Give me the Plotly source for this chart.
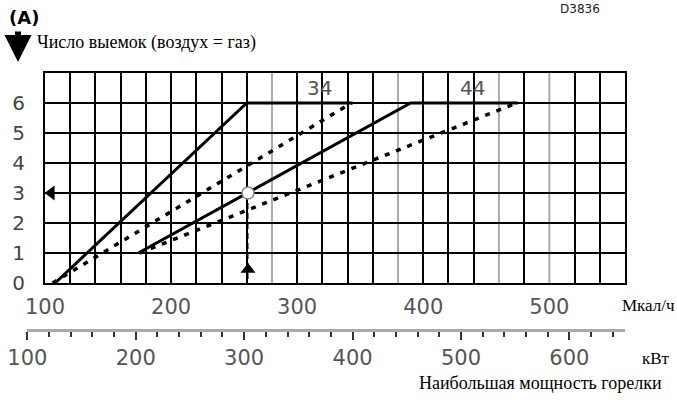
import plotly.graph_objects as go

# burner output (Mcal/h) vs number of notches, nozzles 34 and 44
mcal_34_solid = [108, 260, 344]
notches_34_solid = [0, 6, 6]
mcal_34_dotted = [106, 343]
notches_34_dotted = [0, 6]

mcal_44_solid = [174, 390, 475]
notches_44_solid = [1, 6, 6]
mcal_44_dotted = [175, 474]
notches_44_dotted = [1, 6]

# example reading
example_mcal = 261
example_notches = 3

label_34 = (318, 6.5)
label_44 = (439, 6.5)

mcal_labels = [100, 200, 300, 400, 500]
kw_labels = [100, 200, 300, 400, 500, 600]
notch_labels = [0, 1, 2, 3, 4, 5, 6]
grid_black = [v for v in range(120, 560, 20) if v not in (280, 380, 460, 500)]
grid_gray = [280, 380, 460, 500]

KW_PER_MCAL = 1.163
x_range = [100, 560]
kw_range = [100, 560 * KW_PER_MCAL]

W, H = 677, 400
ML, MR, MT, MB = 20, 52, 73, 40
PW, PH = W - ML - MR, H - MT - MB


def px(x):
    return (x - ML) / PW


def py(y):
    return (H - MB - y) / PH


x_dom0 = px(45)
kw_dom0 = x_dom0 - (x_range[0] - kw_range[0] / KW_PER_MCAL) * (1 - x_dom0) / (x_range[1] - x_range[0])

fig = go.Figure()

solid = dict(color="black", width=3)
dotted = dict(color="black", width=3.5, dash="5px,7px")

fig.add_trace(go.Scatter(x=mcal_34_solid, y=notches_34_solid, mode="lines", line=solid))
fig.add_trace(go.Scatter(x=mcal_34_dotted, y=notches_34_dotted, mode="lines", line=dotted))
fig.add_trace(go.Scatter(x=mcal_44_solid, y=notches_44_solid, mode="lines", line=solid))
fig.add_trace(go.Scatter(x=mcal_44_dotted, y=notches_44_dotted, mode="lines", line=dotted))

# reading guide
guide = dict(color="black", width=1, dash="6px,4px")
fig.add_trace(go.Scatter(x=[x_range[0], example_mcal], y=[example_notches] * 2, mode="lines", line=guide))
fig.add_trace(go.Scatter(x=[example_mcal] * 2, y=[example_notches, 0], mode="lines", line=guide))
fig.add_trace(go.Scatter(x=[105], y=[example_notches], mode="markers",
                         marker=dict(symbol="triangle-left", size=13, color="black")))
fig.add_trace(go.Scatter(x=[example_mcal], y=[0.45], mode="markers",
                         marker=dict(symbol="triangle-up", size=13, color="black")))
fig.add_trace(go.Scatter(x=[example_mcal], y=[example_notches], mode="markers",
                         marker=dict(symbol="circle", size=12, color="white",
                                     line=dict(color="#888", width=1.5))))

# carrier for the kW axis
fig.add_trace(go.Scatter(x=kw_range, y=[None, None], xaxis="x2", yaxis="y2",
                         mode="lines", hoverinfo="skip"))

for v in grid_gray:
    fig.add_shape(type="line", xref="x", yref="y domain", x0=v, x1=v, y0=0, y1=1,
                  line=dict(color="#aaa", width=2), layer="below")

digits = dict(family="DejaVu Sans", size=21, color="#555")
serif = dict(family="Liberation Serif", size=17, color="black")

fig.update_layout(
    width=W, height=H,
    margin=dict(l=ML, r=MR, t=MT, b=MB, autoexpand=False),
    paper_bgcolor="white", plot_bgcolor="white",
    showlegend=False,
    xaxis=dict(
        domain=[x_dom0, 1], range=x_range, anchor="y", automargin=False,
        tickmode="array", tickvals=mcal_labels, ticks="",
        showgrid=False, zeroline=False,
        showline=True, mirror=True, linecolor="black", linewidth=2,
        tickfont=digits, ticklabelstandoff=4,
        minor=dict(tickmode="array", tickvals=grid_black, showgrid=True,
                   gridcolor="black", gridwidth=2, ticks=""),
    ),
    yaxis=dict(
        domain=[py(283), 1], range=[0, 7], automargin=False,
        tickmode="array", tickvals=notch_labels, ticks="",
        showgrid=True, gridcolor="black", gridwidth=2, zeroline=False,
        showline=True, mirror=True, linecolor="black", linewidth=2,
        tickfont=dict(family="DejaVu Sans", size=20, color="#444"),
        ticklabelstandoff=14,
    ),
    xaxis2=dict(
        domain=[kw_dom0, 1], range=kw_range, anchor="free", position=py(330),
        automargin=False,
        tickmode="array", tickvals=kw_labels, ticks="outside", ticklen=8,
        tickcolor="#333", tickwidth=1.5,
        showgrid=False, zeroline=False,
        showline=True, linecolor="#aaa", linewidth=3,
        tickfont=digits,
        minor=dict(tickmode="linear", tick0=100, dtick=20, ticks="outside",
                   ticklen=5, tickcolor="#333", tickwidth=1.5, showgrid=False),
    ),
    yaxis2=dict(domain=[0, 0.05], anchor="x2", visible=False, range=[0, 1],
                automargin=False),
)

ann = [
    dict(x=px(7), y=py(17), text="<b>(A)</b>", xanchor="left",
         font=dict(family="DejaVu Sans", size=18, color="black")),
    dict(x=px(35), y=py(43), text="Число выемок (воздух = газ)", xanchor="left",
         font=dict(family="Liberation Serif", size=18, color="black")),
    dict(x=px(602), y=py(9), text="D3836",
         font=dict(family="DejaVu Sans", size=12, color="#222")),
    dict(x=px(620), y=py(305), text="Мкал/ч", xanchor="left", font=serif),
    dict(x=px(640), y=py(358), text="кВт", xanchor="left", font=serif),
    dict(x=px(417), y=py(383), text="Наибольшая мощность горелки", xanchor="left",
         font=dict(family="Liberation Serif", size=18, color="black")),
]
for a in ann:
    fig.add_annotation(xref="paper", yref="paper", showarrow=False,
                       yanchor="middle", **a)

fig.add_annotation(x=label_34[0], y=label_34[1], text="34", showarrow=False,
                   font=dict(family="DejaVu Sans", size=20, color="#555"))
fig.add_annotation(x=label_44[0], y=label_44[1], text="44", showarrow=False,
                   font=dict(family="DejaVu Sans", size=20, color="#555"))

# thick down arrow next to the title
fig.add_annotation(xref="paper", yref="paper", x=px(18), y=py(62), ax=0, ay=-32,
                   text="", showarrow=True, arrowhead=2, arrowsize=0.9,
                   arrowwidth=6, arrowcolor="black")

fig.write_html("out.html", config={"displayModeBar": False},
               post_script="document.body.style.margin='0px';")
